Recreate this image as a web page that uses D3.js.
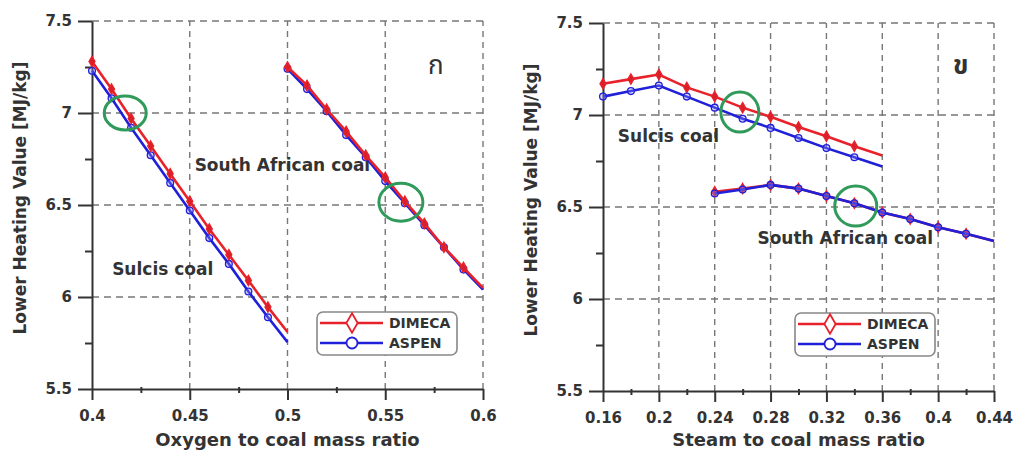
<!DOCTYPE html>
<html>
<head>
<meta charset="utf-8">
<script src="https://cdn.jsdelivr.net/npm/d3@7"></script>
<style>
  html, body { margin: 0; padding: 0; background: #fff; }
  svg { display: block; }
  text { font-family: "DejaVu Sans", "Liberation Sans", sans-serif; font-weight: bold; fill: #333; }
</style>
</head>
<body>
<svg id="chart" width="1018" height="450"></svg>
<script>
// ---------------- DATA ----------------
// Left panel: oxygen to coal mass ratio
const oxygenSulcis = [0.40, 0.41, 0.42, 0.43, 0.44, 0.45, 0.46, 0.47, 0.48, 0.49, 0.50];
const oxygenSouthAfrican = [0.50, 0.51, 0.52, 0.53, 0.54, 0.55, 0.56, 0.57, 0.58, 0.59, 0.60];
const leftSulcisDIMECA = [7.28, 7.13, 6.97, 6.82, 6.67, 6.52, 6.37, 6.23, 6.09, 5.945, 5.81];
const leftSulcisASPEN  = [7.23, 7.08, 6.92, 6.77, 6.62, 6.47, 6.32, 6.18, 6.03, 5.89, 5.755];
const leftSouthAfricanDIMECA = [7.25, 7.15, 7.02, 6.90, 6.77, 6.65, 6.52, 6.40, 6.27, 6.16, 6.05];
const leftSouthAfricanASPEN  = [7.24, 7.13, 7.01, 6.88, 6.76, 6.63, 6.51, 6.39, 6.27, 6.15, 6.04];

// Right panel: steam to coal mass ratio
const steamSulcis = [0.16, 0.18, 0.20, 0.22, 0.24, 0.26, 0.28, 0.30, 0.32, 0.34, 0.36];
const steamSouthAfrican = [0.24, 0.26, 0.28, 0.30, 0.32, 0.34, 0.36, 0.38, 0.40, 0.42, 0.44];
const rightSulcisDIMECA = [7.17, 7.195, 7.22, 7.15, 7.10, 7.04, 6.99, 6.935, 6.885, 6.83, 6.78];
const rightSulcisASPEN  = [7.10, 7.13, 7.16, 7.10, 7.04, 6.98, 6.93, 6.875, 6.82, 6.77, 6.72];
const rightSouthAfricanDIMECA = [6.583, 6.60, 6.62, 6.60, 6.56, 6.52, 6.47, 6.435, 6.39, 6.355, 6.315];
const rightSouthAfricanASPEN  = [6.573, 6.595, 6.62, 6.60, 6.56, 6.52, 6.47, 6.435, 6.39, 6.355, 6.315];

// Axes / ticks
const yTicks = [5.5, 6, 6.5, 7, 7.5];
const yTickLabels = ["5.5", "6", "6.5", "7", "7.5"];
const yMinorTicks = [5.75, 6.25, 6.75, 7.25];
const leftXTicks = [0.4, 0.45, 0.5, 0.55, 0.6];
const leftXTickLabels = ["0.4", "0.45", "0.5", "0.55", "0.6"];
const leftXMinorTicks = [0.425, 0.475, 0.525, 0.575];
const rightXTicks = [0.16, 0.2, 0.24, 0.28, 0.32, 0.36, 0.4, 0.44];
const rightXTickLabels = ["0.16", "0.2", "0.24", "0.28", "0.32", "0.36", "0.4", "0.44"];
const rightXMinorTicks = [0.18, 0.22, 0.26, 0.30, 0.34, 0.38, 0.42];

const seriesNames = ["DIMECA", "ASPEN"];
const yTitle = "Lower Heating Value [MJ/kg]";
const leftXTitle = "Oxygen to coal mass ratio";
const rightXTitle = "Steam to coal mass ratio";

// Annotations (data units)
const leftHighlights = [[0.417, 7.0, 21, 17], [0.558, 6.515, 22, 19]];
const rightHighlights = [[0.258, 7.016, 19, 20], [0.341, 6.505, 21, 20]];
const leftLabels = [["South African coal", 0.4525, 6.685], ["Sulcis coal", 0.4103, 6.12]];
const rightLabels = [["Sulcis coal", 0.1706, 6.853], ["South African coal", 0.2706, 6.30]];
const panelMarks = ["ก", "ข"];

// ---------------- STYLE ----------------
const RED = "#e8222a", BLUE = "#2020d8", GREEN = "#2f9a5a", GRID = "#777";

const svg = d3.select("#chart");

function panel(cfg) {
  const x = d3.scaleLinear().domain(cfg.xDomain).range([cfg.left, cfg.right]);
  const y = d3.scaleLinear().domain([5.5, 7.5]).range([cfg.bottom, cfg.top]);
  const g = svg.append("g");

  // grid
  g.append("g").selectAll("line").data(cfg.xTicks.slice(1)).join("line")
    .attr("x1", d => x(d)).attr("x2", d => x(d))
    .attr("y1", y(5.5)).attr("y2", y(7.5))
    .attr("stroke", GRID).attr("stroke-width", 1.4).attr("stroke-dasharray", "6,5");
  g.append("g").selectAll("line").data(yTicks.slice(1)).join("line")
    .attr("x1", x(cfg.xDomain[0])).attr("x2", x(cfg.xDomain[1]))
    .attr("y1", d => y(d)).attr("y2", d => y(d))
    .attr("stroke", GRID).attr("stroke-width", 1.4).attr("stroke-dasharray", "7,5");

  // axes
  const yAxis = d3.axisLeft(y).tickValues(yTicks)
    .tickFormat((d, i) => yTickLabels[i]).tickSize(14).tickSizeOuter(0).tickPadding(6);
  const ya = g.append("g").attr("transform", `translate(${cfg.left},0)`).call(yAxis);
  const yMinor = d3.axisLeft(y).tickValues(yMinorTicks).tickFormat("").tickSize(7).tickSizeOuter(0);
  g.append("g").attr("transform", `translate(${cfg.left},0)`).call(yMinor).select(".domain").remove();

  const xAxis = d3.axisBottom(x).tickValues(cfg.xTicks)
    .tickFormat((d, i) => cfg.xTickLabels[i]).tickSize(11).tickSizeOuter(0).tickPadding(10);
  const xa = g.append("g").attr("transform", `translate(0,${cfg.bottom})`).call(xAxis);
  const xMinor = d3.axisBottom(x).tickValues(cfg.xMinorTicks).tickFormat("").tickSize(6).tickSizeOuter(0);
  g.append("g").attr("transform", `translate(0,${cfg.bottom - 2})`).call(xMinor).select(".domain").remove();

  g.selectAll(".domain").attr("stroke", "#333").attr("stroke-width", 2);
  g.selectAll(".tick line").attr("stroke", "#333").attr("stroke-width", 2);
  ya.selectAll(".tick text").style("font-size", "15px").attr("fill", "#333");
  xa.selectAll(".tick text").style("font-size", "15px").attr("fill", "#333");

  // labels (under the curves, as in the original)
  g.append("g").selectAll("text").data(cfg.labels).join("text")
    .attr("x", d => x(d[1])).attr("y", d => y(d[2]))
    .style("font-size", "17px").text(d => d[0]);

  // lines
  const line = d3.line().x(d => x(d[0])).y(d => y(d[1]));
  const diamond = d3.symbol().type(d3.symbolDiamond).size(30);
  function drawSeries(xs, ys, color, kind) {
    const pts = xs.map((v, i) => [v, ys[i]]);
    const sg = g.append("g");
    sg.append("path").datum(pts).attr("d", line)
      .attr("fill", "none").attr("stroke", color).attr("stroke-width", 2.6);
    const mk = pts.slice(0, pts.length - 1);
    if (kind === "diamond") {
      sg.selectAll("path.m").data(mk).join("path").attr("class", "m")
        .attr("d", diamond).attr("transform", d => `translate(${x(d[0])},${y(d[1])})`)
        .attr("fill", "#d8202a").attr("stroke", color).attr("stroke-width", 1.4);
    } else {
      sg.selectAll("circle").data(mk).join("circle")
        .attr("cx", d => x(d[0])).attr("cy", d => y(d[1])).attr("r", 3.4)
        .attr("fill", "rgba(140,140,255,0.35)").attr("stroke", color).attr("stroke-width", 1.3);
    }
  }
  cfg.series.forEach(s => drawSeries(s[0], s[1], s[2], s[3]));

  // highlight circles
  g.append("g").selectAll("ellipse").data(cfg.highlights).join("ellipse")
    .attr("cx", d => x(d[0])).attr("cy", d => y(d[1]))
    .attr("rx", d => d[2]).attr("ry", d => d[3])
    .attr("fill", "none").attr("stroke", GREEN).attr("stroke-width", 3);

  // panel mark
  g.append("text").attr("x", cfg.markX).attr("y", cfg.markY)
    .style("font-family", "'Noto Sans Thai', 'Noto Sans', 'DejaVu Sans', sans-serif")
    .style("font-weight", cfg.markWeight).style("font-size", "26px").attr("fill", "#000")
    .text(cfg.mark);

  // legend
  const lg = g.append("g").attr("transform", `translate(${cfg.legX},${cfg.legY})`);
  lg.append("rect").attr("x", 0).attr("y", 0).attr("width", 140).attr("height", 43)
    .attr("rx", 6).attr("fill", "#fff").attr("stroke", "#888").attr("stroke-width", 1.6);
  seriesNames.forEach((name, i) => {
    const cy = 11 + i * 20;
    const color = i === 0 ? RED : BLUE;
    lg.append("line").attr("x1", 3).attr("x2", 66).attr("y1", cy).attr("y2", cy)
      .attr("stroke", color).attr("stroke-width", 2.6);
    if (i === 0) {
      lg.append("path").attr("d", d3.symbol().type(d3.symbolDiamond).size(110))
        .attr("transform", `translate(35,${cy})`).attr("fill", "#fff")
        .attr("stroke", color).attr("stroke-width", 1.8);
    } else {
      lg.append("circle").attr("cx", 35).attr("cy", cy).attr("r", 5.5)
        .attr("fill", "#fff").attr("stroke", color).attr("stroke-width", 1.8);
    }
    lg.append("text").attr("x", 72).attr("y", cy + 5).style("font-size", "14px").text(name);
  });

  // axis titles
  g.append("text").attr("transform", `translate(${cfg.yTitleX},${cfg.yTitleY}) rotate(-90)`)
    .attr("text-anchor", "middle").style("font-size", "17px").text(yTitle);
  g.append("text").attr("x", (cfg.left + cfg.right) / 2).attr("y", 446)
    .attr("text-anchor", "middle").style("font-size", "18px").text(cfg.xTitle);
}

panel({
  xDomain: [0.4, 0.6], left: 92, right: 483, top: 21, bottom: 389,
  xTicks: leftXTicks, xTickLabels: leftXTickLabels, xMinorTicks: leftXMinorTicks,
  series: [
    [oxygenSulcis, leftSulcisASPEN, BLUE, "circle"],
    [oxygenSulcis, leftSulcisDIMECA, RED, "diamond"],
    [oxygenSouthAfrican, leftSouthAfricanASPEN, BLUE, "circle"],
    [oxygenSouthAfrican, leftSouthAfricanDIMECA, RED, "diamond"]
  ],
  highlights: leftHighlights, labels: leftLabels,
  mark: panelMarks[0], markX: 428, markY: 74, markWeight: "normal",
  legX: 317, legY: 312, yTitleX: 26, yTitleY: 198, xTitle: leftXTitle
});

panel({
  xDomain: [0.16, 0.44], left: 603, right: 994, top: 23, bottom: 391,
  xTicks: rightXTicks, xTickLabels: rightXTickLabels, xMinorTicks: rightXMinorTicks,
  series: [
    [steamSulcis, rightSulcisDIMECA, RED, "diamond"],
    [steamSulcis, rightSulcisASPEN, BLUE, "circle"],
    [steamSouthAfrican, rightSouthAfricanDIMECA, RED, "diamond"],
    [steamSouthAfrican, rightSouthAfricanASPEN, BLUE, "circle"]
  ],
  highlights: rightHighlights, labels: rightLabels,
  mark: panelMarks[1], markX: 953, markY: 74, markWeight: "bold",
  legX: 795, legY: 313, yTitleX: 537, yTitleY: 200, xTitle: rightXTitle
});
</script>
</body>
</html>
